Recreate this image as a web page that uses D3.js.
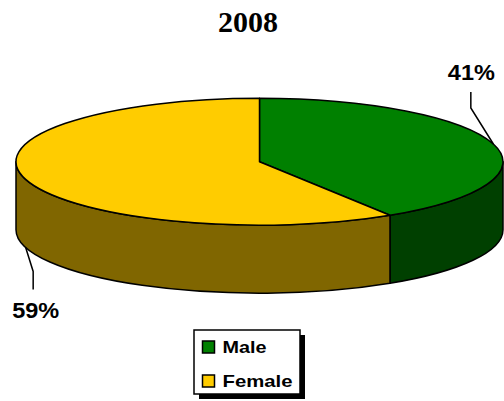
<!DOCTYPE html>
<html>
<head>
<meta charset="utf-8">
<script src="https://cdn.jsdelivr.net/npm/d3@7"></script>
<style>
body{margin:0;background:#fff}
svg{display:block}
</style>
</head>
<body>
<div id="chart"></div>
<script>
var title = "2008"
var categories = ["Male","Female"]
var values = [41,59]
var topColors = ["#008000","#ffcc00"]
var sideColors = ["#004000","#806600"]

var w = 504
var h = 401
var cx = 259.5, cy = 161.7
var rx = 243.5, ry = 63.5
var depth = 68

var svg = d3.select("#chart").append("svg").attr("width",w).attr("height",h)

svg.append("text").text(title)
	.attr("x",248).attr("y",32)
	.attr("text-anchor","middle")
	.style("font-family","'Liberation Serif','Times New Roman',serif")
	.style("font-weight","bold")
	.style("font-size","30px")

var pie = d3.pie().sort(null).startAngle(0).endAngle(2*Math.PI)
var arcs = pie(values)

function pt(a,dy){
	return [cx+rx*Math.sin(a), cy-ry*Math.cos(a)+(dy||0)]
}

// side walls, only the front half (90deg .. 270deg) shows
var front0 = Math.PI/2, front1 = 3*Math.PI/2
arcs.forEach(function(d,i){
	var s = Math.max(d.startAngle,front0)
	var e = Math.min(d.endAngle,front1)
	if(e<=s) return
	var p0 = pt(s), p1 = pt(e), q1 = pt(e,depth), q0 = pt(s,depth)
	var path = "M"+p0+" A"+rx+" "+ry+" 0 0 1 "+p1+
		" L"+q1+" A"+rx+" "+ry+" 0 0 0 "+q0+" Z"
	svg.append("path").attr("d",path)
		.attr("fill",sideColors[i])
		.attr("stroke","#000").attr("stroke-width",1.5).attr("stroke-linejoin","round")
})

// top faces
arcs.forEach(function(d,i){
	var p0 = pt(d.startAngle), p1 = pt(d.endAngle)
	var large = (d.endAngle-d.startAngle)>Math.PI ? 1 : 0
	var path = "M"+cx+","+cy+" L"+p0+" A"+rx+" "+ry+" 0 "+large+" 1 "+p1+" Z"
	svg.append("path").attr("d",path)
		.attr("fill",topColors[i])
		.attr("stroke","#000").attr("stroke-width",1.5).attr("stroke-linejoin","round")
})

// labels with leader lines
arcs.forEach(function(d,i){
	var mid = (d.startAngle+d.endAngle)/2
	var back = Math.cos(mid)>0
	var a = back ? pt(mid) : pt(mid,depth)
	var pts, lx, ly
	if(back){
		pts = [a,[a[0]-22.5,a[1]-36],[a[0]-22.5,a[1]-52]]
		lx = a[0]-22; ly = a[1]-64
	}else{
		pts = [a,[a[0]+7.5,a[1]+24],[a[0]+7.5,a[1]+42]]
		lx = a[0]+10; ly = a[1]+71
	}
	svg.append("path").attr("d",d3.line()(pts))
		.attr("fill","none").attr("stroke","#000").attr("stroke-width",1.5)
	svg.append("text").text(Math.round(d.value)+"%")
		.attr("x",lx).attr("y",ly)
		.attr("text-anchor","middle")
		.attr("textLength",47).attr("lengthAdjust","spacingAndGlyphs")
		.style("font-family","'Liberation Sans',Arial,sans-serif")
		.style("font-weight","bold")
		.style("font-size","22px")
})

// legend
var lg = svg.append("g")
lg.append("rect").attr("x",199).attr("y",335).attr("width",106).attr("height",64).attr("fill","#000")
lg.append("rect").attr("x",194).attr("y",330).attr("width",106).attr("height",64)
	.attr("fill","#fff").attr("stroke","#000").attr("stroke-width",1.5)
var textLens = [44,70]
categories.forEach(function(c,i){
	var y = 341+i*34
	lg.append("rect").attr("x",202.5).attr("y",y).attr("width",12).attr("height",12)
		.attr("fill",topColors[i]).attr("stroke","#000").attr("stroke-width",1.5)
	lg.append("text").text(c)
		.attr("x",222.5).attr("y",y+11.8)
		.attr("textLength",textLens[i]).attr("lengthAdjust","spacingAndGlyphs")
		.style("font-family","'Liberation Sans',Arial,sans-serif")
		.style("font-weight","bold")
		.style("font-size","17px")
})
</script>
</body>
</html>
